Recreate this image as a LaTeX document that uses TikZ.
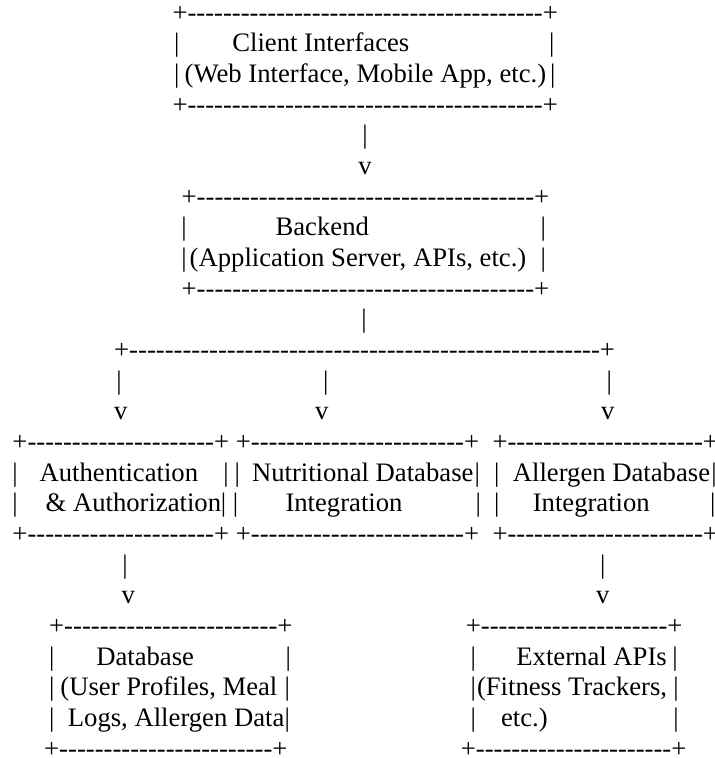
\documentclass[tikz,border=0pt]{standalone}
\usepackage{fontspec}
\setmainfont{Liberation Serif}
% a run of n hyphens, kept apart so that no dash ligature forms
\ExplSyntaxOn
\NewDocumentCommand\dashrun{m}{\prg_replicate:nn{#1}{-\kern0pt}}
\ExplSyntaxOff
\newcommand\edgerow[1]{+\dashrun{#1}+}
\begin{document}
\begin{tikzpicture}[x=1pt, y=-1pt,
  every node/.style={inner sep=0pt, outer sep=0pt, font=\fontsize{26.67}{30.67}\selectfont},
  bar/.style={anchor=base},
  txt/.style={anchor=base west}]
\fill[white] (0,0) rectangle (715,758);
\useasboundingbox (0,0) rectangle (715,758);

% Client interfaces box
\node[txt] (c1)  at (172.5,21.0) {\edgerow{40}};
\node[bar] (c2l) at (176.7,51.7) {|};
\node[txt] (c2t) at (232.3,51.7) {Client Interfaces};
\node[bar] (c2r) at (551.7,51.7) {|};
\node[bar] (c3l) at (176.7,82.3) {|};
\node[txt] (c3t) at (184.7,82.3) {(Web Interface, Mobile App, etc.)};
\node[bar] (c3r) at (552.7,82.3) {|};
\node[txt] (c4)  at (172.5,113.0) {\edgerow{40}};
\node[bar] (a1)  at (365,143.7) {|};
\node[bar] (a2)  at (365,174.4) {v};

% Backend box
\node[txt] (b1)  at (181.7,205.0) {\edgerow{38}};
\node[bar] (b2l) at (184,235.7) {|};
\node[txt] (b2t) at (275.6,235.7) {Backend};
\node[bar] (b2r) at (543.3,235.7) {|};
\node[bar] (b3l) at (184,266.4) {|};
\node[txt] (b3t) at (189.7,266.4) {(Application Server, APIs, etc.)};
\node[bar] (b3r) at (543.3,266.4) {|};
\node[txt] (b4)  at (181.7,297.0) {\edgerow{38}};
\node[bar] (s1)  at (364,327.7) {|};

% branch to the three services
\node[txt] (s2)  at (114.2,358.4) {\edgerow{53}};
\node[bar] (s3a) at (119,389.0) {|};
\node[bar] (s3b) at (325.7,389.0) {|};
\node[bar] (s3c) at (609.3,389.0) {|};
\node[bar] (s4a) at (120.7,419.7) {v};
\node[bar] (s4b) at (321.7,419.7) {v};
\node[bar] (s4c) at (607.7,419.7) {v};

% three service boxes
\node[txt] (p1a) at (12.5,450.4) {\edgerow{21}};
\node[txt] (p1b) at (235.9,450.4) {\edgerow{24}};
\node[txt] (p1c) at (492.5,450.4) {\edgerow{22}};

\node[bar] (p2a) at (15,481.1) {|};
\node[txt] (p2b) at (39.6,481.1) {Authentication};
\node[bar] (p2c) at (226,481.1) {|};
\node[bar] (p2d) at (237.3,481.1) {|};
\node[txt] (p2e) at (252,481.1) {Nutritional Database};
\node[bar] (p2f) at (477.3,481.1) {|};
\node[bar] (p2g) at (496.7,481.1) {|};
\node[txt] (p2h) at (512.9,481.1) {Allergen Database};
\node[bar] (p2i) at (714,481.1) {|};

\node[bar] (p3a) at (15,511.7) {|};
\node[txt] (p3b) at (45.6,511.7) {\& Authorization};
\node[bar] (p3c) at (223.5,511.7) {|};
\node[bar] (p3d) at (235.5,511.7) {|};
\node[txt] (p3e) at (285.5,511.7) {Integration};
\node[bar] (p3f) at (478.3,511.7) {|};
\node[bar] (p3g) at (496.7,511.7) {|};
\node[txt] (p3h) at (532.8,511.7) {Integration};
\node[bar] (p3i) at (712.7,511.7) {|};

\node[txt] (p4a) at (12.5,542.4) {\edgerow{21}};
\node[txt] (p4b) at (235.9,542.4) {\edgerow{24}};
\node[txt] (p4c) at (492.5,542.4) {\edgerow{22}};

\node[bar] (d1a) at (125,573.1) {|};
\node[bar] (d1b) at (602.7,573.1) {|};
\node[bar] (d2a) at (128.3,603.7) {v};
\node[bar] (d2b) at (602.7,603.7) {v};

% database and external APIs boxes
\node[txt] (q1a) at (49.2,634.4) {\edgerow{24}};
\node[txt] (q1b) at (465.9,634.4) {\edgerow{21}};

\node[bar] (q2a) at (51.7,665.1) {|};
\node[txt] (q2b) at (96.3,665.1) {Database};
\node[bar] (q2c) at (288.3,665.1) {|};
\node[bar] (q2d) at (473.3,665.1) {|};
\node[txt] (q2e) at (516.4,665.1) {External APIs};
\node[bar] (q2f) at (675,665.1) {|};

\node[bar] (q3a) at (51.7,695.7) {|};
\node[txt] (q3b) at (60.4,695.7) {(User Profiles, Meal};
\node[bar] (q3c) at (287.3,695.7) {|};
\node[bar] (q3d) at (473.3,695.7) {|};
\node[txt] (q3e) at (477,695.7) {(Fitness Trackers,};
\node[bar] (q3f) at (676,695.7) {|};

\node[bar] (q4a) at (51.7,726.4) {|};
\node[txt] (q4b) at (67.9,726.4) {Logs, Allergen Data};
\node[bar] (q4c) at (287.3,726.4) {|};
\node[bar] (q4d) at (473.3,726.4) {|};
\node[txt] (q4e) at (501,726.4) {etc.)};
\node[bar] (q4f) at (676,726.4) {|};

\node[txt] (q5a) at (44.2,757.1) {\edgerow{24}};
\node[txt] (q5b) at (460.9,757.1) {\edgerow{22}};
\end{tikzpicture}
\end{document}
